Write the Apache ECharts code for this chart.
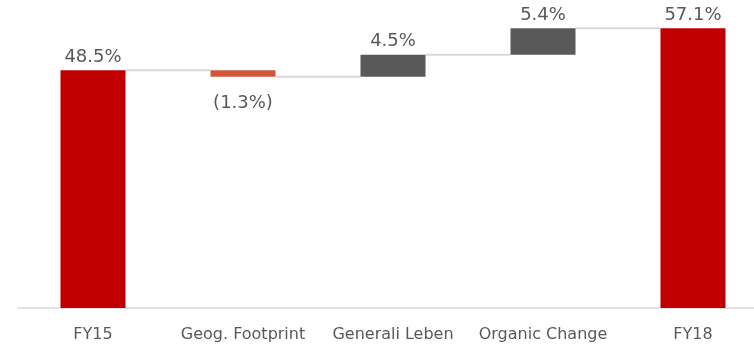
<!DOCTYPE html>
<html>
<head>
<meta charset="utf-8">
<script src="https://cdn.jsdelivr.net/npm/echarts@6/dist/echarts.min.js"></script>
<style>html,body{margin:0;padding:0;background:#fff;overflow:hidden}#c{width:768px;height:350px}</style>
</head>
<body>
<div id="c"></div>
<script>
var categories = ['FY15', 'Geog. Footprint', 'Generali Leben', 'Organic Change', 'FY18'];
var values = [48.5, -1.3, 4.5, 5.4, 57.1];
var isTotal = [true, false, false, false, true];
var valueLabels = ['48.5%', '(1.3%)', '4.5%', '5.4%', '57.1%'];

// derive waterfall bases and connector levels from the data
var bases = [], heights = [], levels = [];
var running = 0;
for (var i = 0; i < values.length; i++) {
  if (isTotal[i]) {
    bases.push(0); heights.push(values[i]); running = values[i];
  } else {
    var next = running + values[i];
    bases.push(Math.min(running, next)); heights.push(Math.abs(values[i]));
    running = next;
  }
  levels.push(Math.round(running * 10) / 10);
}
var connectorData = [];
for (var j = 0; j < categories.length - 1; j++) connectorData.push([j, levels[j]]);

var colors = values.map(function (v, i) {
  if (isTotal[i]) return '#c00000';
  return v < 0 ? '#d0573a' : '#595959';
});

var BAR_W = 65;
var chart = echarts.init(document.getElementById('c'));
chart.setOption({
  animation: false,
  grid: { left: 18, right: 0, top: 14, bottom: 42 },
  xAxis: {
    type: 'category',
    data: categories,
    axisLine: { lineStyle: { color: '#d9d9d9', width: 1.5 } },
    axisTick: { show: false },
    axisLabel: { color: '#595959', fontFamily: 'DejaVu Sans', fontSize: 16, margin: 19, interval: 0 }
  },
  yAxis: { type: 'value', min: 0, max: 60, show: false, splitLine: { show: false } },
  series: [
    {
      type: 'bar', stack: 'w', barWidth: BAR_W, silent: true,
      itemStyle: { color: 'transparent' },
      data: bases
    },
    {
      type: 'bar', stack: 'w', barWidth: BAR_W,
      data: heights.map(function (h, i) {
        return {
          value: h,
          itemStyle: { color: colors[i] },
          label: values[i] < 0 ? { position: 'bottom', distance: 18 } : { position: 'top', distance: 4 }
        };
      }),
      label: {
        show: true, color: '#595959', fontFamily: 'DejaVu Sans', fontSize: 18,
        formatter: function (p) { return valueLabels[p.dataIndex]; }
      }
    },
    {
      type: 'custom',
      data: connectorData,
      z: 1,
      renderItem: function (params, api) {
        var idx = api.value(0), lv = api.value(1);
        var p1 = api.coord([idx, lv]);
        var p2 = api.coord([idx + 1, lv]);
        return {
          type: 'line',
          shape: { x1: p1[0] + BAR_W / 2, y1: p1[1], x2: p2[0] - BAR_W / 2, y2: p2[1] },
          style: { stroke: '#d9d9d9', lineWidth: 2 }
        };
      }
    }
  ]
});
</script>
</body>
</html>
